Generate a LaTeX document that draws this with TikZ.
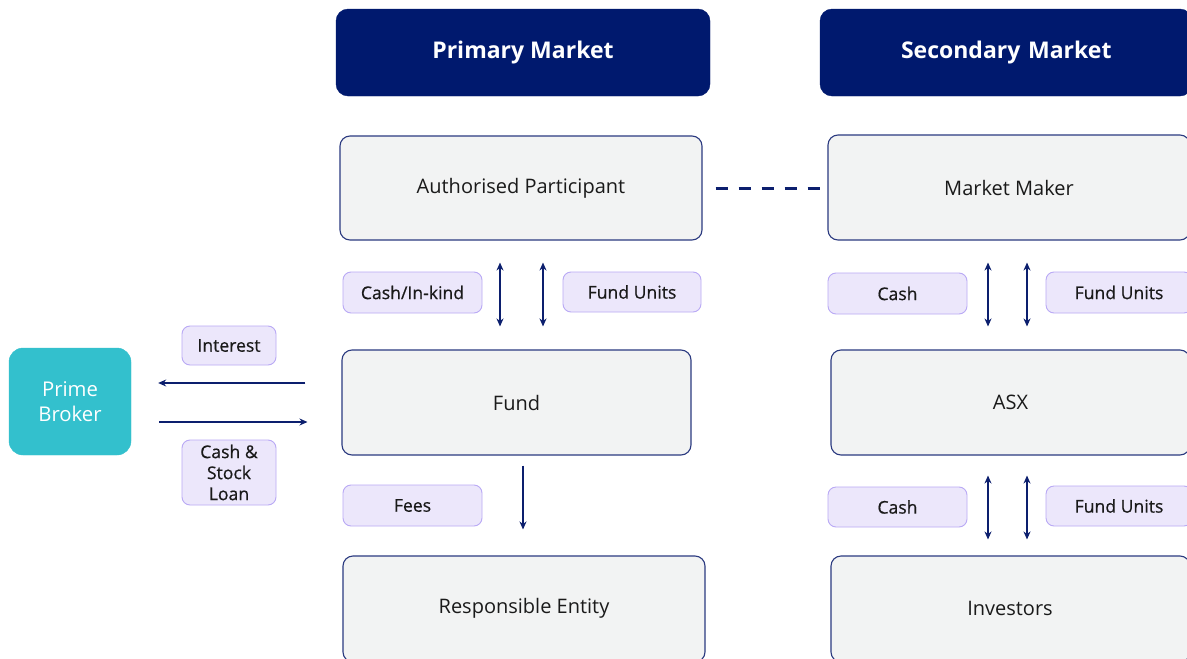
\documentclass[tikz,border=0pt]{standalone}
\usepackage{fontspec}
\setmainfont{Open Sans}
\newfontfamily\semib{Open Sans}[FakeBold=0.6]
\usetikzlibrary{arrows.meta}
\definecolor{navy}{HTML}{00196E}
\definecolor{arrowc}{HTML}{0C1F6E}
\definecolor{boxfill}{HTML}{F2F3F3}
\definecolor{boxline}{HTML}{2B3A80}
\definecolor{lblfill}{HTML}{ECE7FB}
\definecolor{lblline}{HTML}{B9A9F5}
\definecolor{teal}{HTML}{33C0CD}
\definecolor{txt}{HTML}{1A1A1A}
\tikzset{
  header/.style={fill=navy, draw=navy, rounded corners=12pt, inner sep=0pt, text=white,
    font=\fontsize{23}{27}\selectfont\bfseries},
  entity/.style={fill=boxfill, draw=boxline, line width=1.1pt, rounded corners=10pt, inner sep=0pt,
    text=txt, font=\fontsize{20}{24}\selectfont},
  lbl/.style={fill=lblfill, draw=lblline, line width=0.9pt, rounded corners=8pt, inner sep=0pt,
    text=txt, font=\semib\fontsize{17.6}{21.5}\selectfont, align=center},
  broker/.style={fill=teal, draw=teal, rounded corners=14pt, inner sep=0pt, text=white,
    font=\fontsize{20.3}{24.5}\selectfont, align=center},
  arr/.style={draw=arrowc, line width=1.1pt, -{Stealth[length=8pt,width=7pt]}},
  darr/.style={draw=arrowc, line width=1.1pt, {Stealth[length=8pt,width=7pt]}-{Stealth[length=8pt,width=7pt]}},
  dashline/.style={draw=arrowc, line width=3pt, dash pattern=on 12pt off 11pt}
}
\begin{document}
\begin{tikzpicture}[x=1pt,y=-1pt]
\useasboundingbox (0,0) rectangle (1187,659);
\clip (0,0) rectangle (1187,659);
\fill[white] (0,0) rectangle (1187,659);
% headers
\node[header, minimum width=374pt, minimum height=87pt] (PM) at (523,52.5) {Primary Market};
\node[header, minimum width=372pt, minimum height=87pt, text width=372pt, align=left] (SM) at (1006,52.5) {\hspace{81pt}Secondary Market};
% entity boxes
\node[entity, minimum width=362pt, minimum height=104pt] (AP) at (521,188) {Authorised Participant};
\node[entity, minimum width=362pt, minimum height=105pt] (MM) at (1009,187.5) {Market Maker};
\node[entity, minimum width=349pt, minimum height=105pt] (Fund) at (516.5,402.5) {Fund};
\node[entity, minimum width=359pt, minimum height=105pt] (ASX) at (1010.5,402.5) {ASX};
\node[entity, minimum width=362pt, minimum height=106pt] (RE) at (524,609) {};
\node[font=\fontsize{20}{24}\selectfont, text=txt] at (524,608) {Responsible Entity};
\node[entity, minimum width=359pt, minimum height=106pt] (Inv) at (1010.5,609) {};
\node[font=\fontsize{20}{24}\selectfont, text=txt] at (1010,608) {Investors};
% prime broker
\node[broker, minimum width=122pt, minimum height=107pt] (PB) at (70,401.5) {Prime\\Broker};
% labels
\node[lbl, minimum width=139pt, minimum height=41pt] (L1) at (412.5,292.5) {Cash/In-kind};
\node[lbl, minimum width=138pt, minimum height=40pt] (L2) at (632,292) {Fund Units};
\node[lbl, minimum width=139pt, minimum height=41pt] (L3) at (897.5,293.5) {Cash};
\node[lbl, minimum width=146pt, minimum height=41pt] (L4) at (1119,292.5) {Fund Units};
\node[lbl, minimum width=139pt, minimum height=41pt] (L5) at (412.5,505.5) {Fees};
\node[lbl, minimum width=139pt, minimum height=40pt] (L6) at (897.5,507) {Cash};
\node[lbl, minimum width=146pt, minimum height=40pt] (L7) at (1119,506) {Fund Units};
\node[lbl, minimum width=94pt, minimum height=39pt] (L8) at (229,345.5) {Interest};
\node[lbl, minimum width=94pt, minimum height=65pt, font=\semib\fontsize{17.6}{21}\selectfont] (L9) at (229,472.5) {Cash \&\\Stock\\Loan};
% dashed connector
\draw[dashline, shorten <=13pt] (AP.east |- 0,188) -- (MM.west |- 0,188);
% vertical arrows primary
\draw[darr, shorten <=22pt, shorten >=23pt] (AP.south -| 500,0) -- (Fund.north -| 500,0);
\draw[darr, shorten <=22pt, shorten >=23pt] (AP.south -| 543,0) -- (Fund.north -| 543,0);
\draw[arr, shorten <=10pt, shorten >=26pt] (Fund.south -| 523,0) -- (RE.north -| 523,0);
% vertical arrows secondary
\draw[darr, shorten <=22pt, shorten >=23pt] (MM.south -| 988,0) -- (ASX.north -| 988,0);
\draw[darr, shorten <=22pt, shorten >=23pt] (MM.south -| 1027,0) -- (ASX.north -| 1027,0);
\draw[darr, shorten <=20pt, shorten >=16pt] (ASX.south -| 988,0) -- (Inv.north -| 988,0);
\draw[darr, shorten <=20pt, shorten >=16pt] (ASX.south -| 1027,0) -- (Inv.north -| 1027,0);
% prime broker arrows
\draw[arr, shorten <=36pt, shorten >=27pt] (Fund.west |- 0,383) -- (PB.east |- 0,383);
\draw[arr, shorten <=28pt, shorten >=34pt] (PB.east |- 0,422) -- (Fund.west |- 0,422);
\end{tikzpicture}
\end{document}
